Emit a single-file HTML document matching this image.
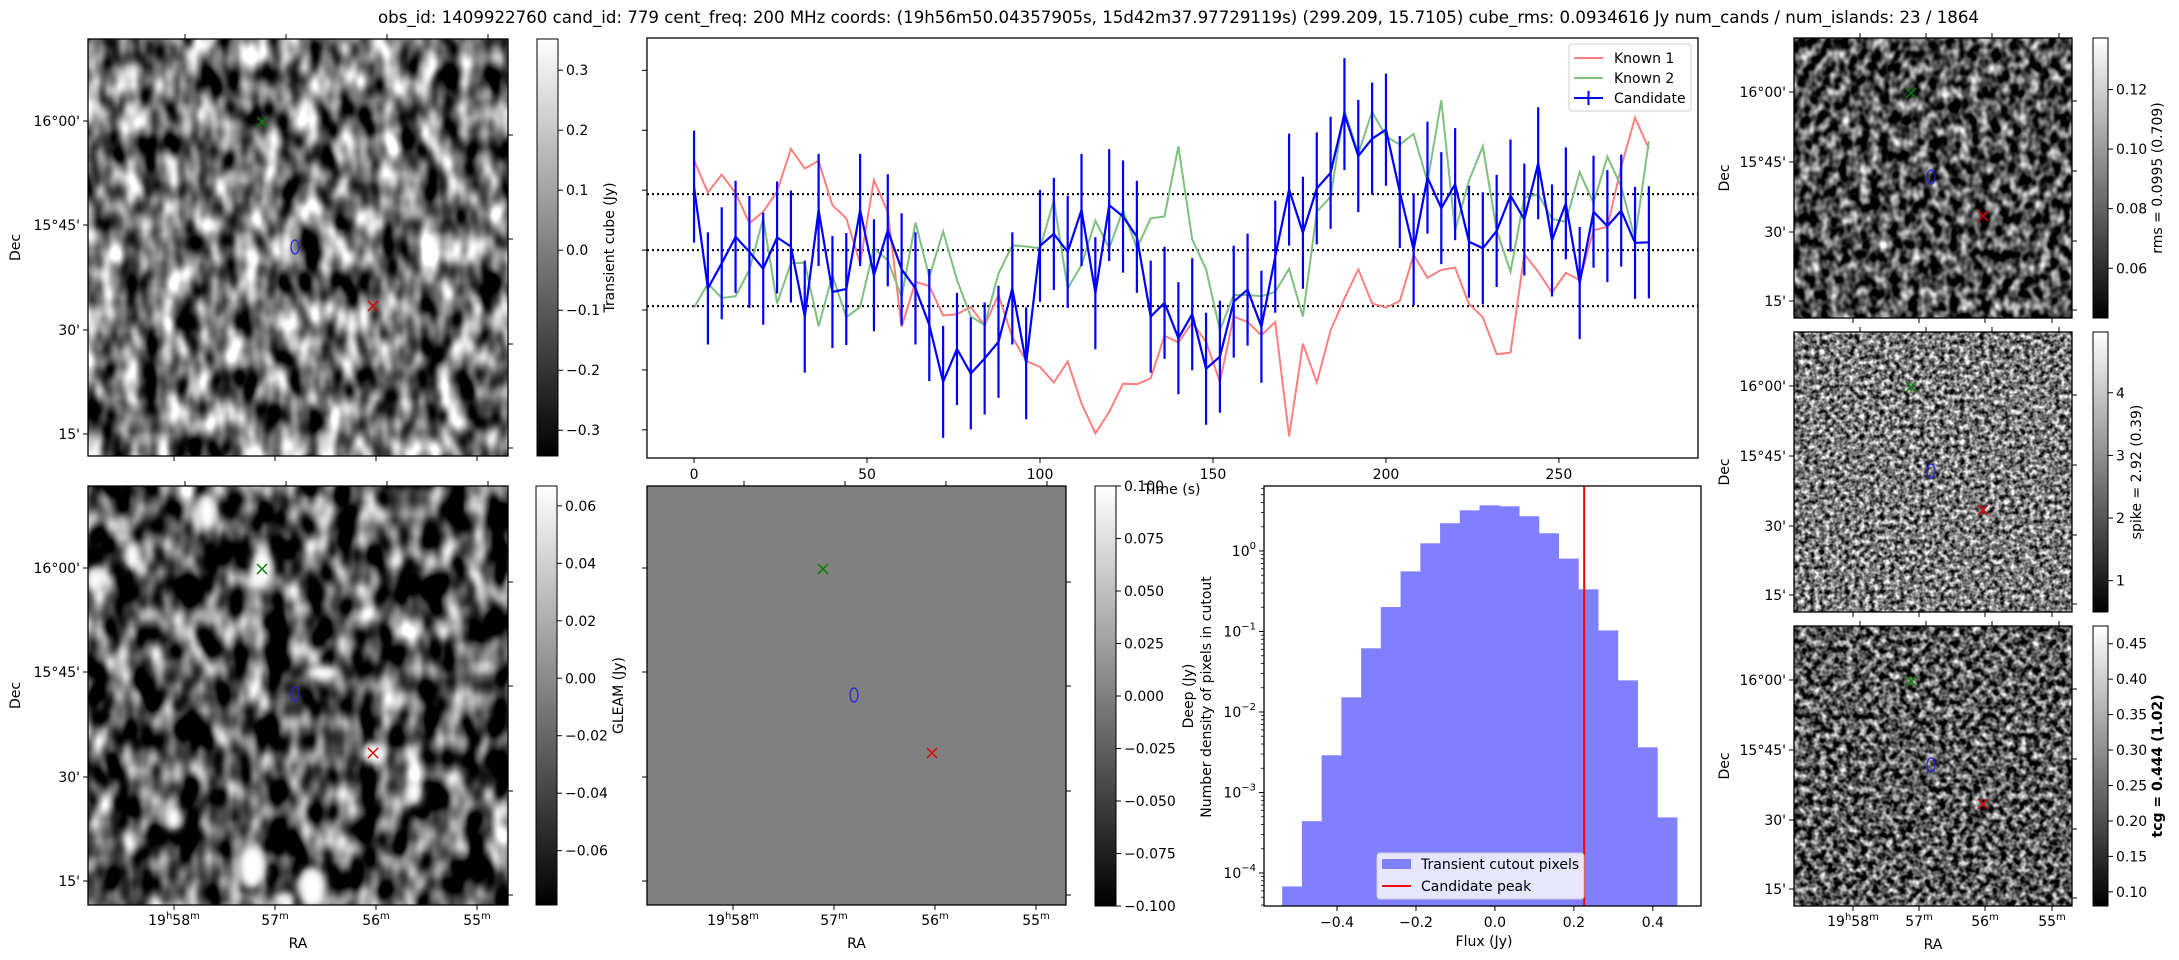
<!DOCTYPE html>
<html><head><meta charset="utf-8"><style>
html,body{margin:0;padding:0;background:#fff;}
svg{display:block;}
text{font-family:"DejaVu Sans","Liberation Sans",sans-serif;fill:#000;}
</style></head><body>
<svg id="fig" xmlns="http://www.w3.org/2000/svg" width="2179" height="960" viewBox="0 0 2179 960">
<defs>
 <linearGradient id="gray" x1="0" y1="1" x2="0" y2="0"><stop offset="0" stop-color="#000"/><stop offset="1" stop-color="#fff"/></linearGradient>
 <filter id="nTL" x="0" y="0" width="100%" height="100%" color-interpolation-filters="sRGB">
  <feTurbulence type="fractalNoise" baseFrequency="0.05 0.03" numOctaves="2" seed="3"/>
  <feColorMatrix type="matrix" values="2.1 0 0 0 -0.6 2.1 0 0 0 -0.6 2.1 0 0 0 -0.6 0 0 0 0 1"/>
 </filter>
 <filter id="nBL" x="0" y="0" width="100%" height="100%" color-interpolation-filters="sRGB">
  <feTurbulence type="fractalNoise" baseFrequency="0.045 0.028" numOctaves="2" seed="11"/>
  <feColorMatrix type="matrix" values="2.2 0 0 0 -0.8 2.2 0 0 0 -0.8 2.2 0 0 0 -0.8 0 0 0 0 1"/>
 </filter>
 <filter id="nR1" x="0" y="0" width="100%" height="100%" color-interpolation-filters="sRGB">
  <feTurbulence type="fractalNoise" baseFrequency="0.1 0.08" numOctaves="2" seed="5"/>
  <feColorMatrix type="matrix" values="1.9 0 0 0 -0.65 1.9 0 0 0 -0.65 1.9 0 0 0 -0.65 0 0 0 0 1"/>
 </filter>
 <filter id="nR2" x="0" y="0" width="100%" height="100%" color-interpolation-filters="sRGB">
  <feTurbulence type="fractalNoise" baseFrequency="0.2" numOctaves="2" seed="8"/>
  <feColorMatrix type="matrix" values="1.8 0 0 0 -0.42 1.8 0 0 0 -0.42 1.8 0 0 0 -0.42 0 0 0 0 1"/>
 </filter>
 <filter id="nR3" x="0" y="0" width="100%" height="100%" color-interpolation-filters="sRGB">
  <feTurbulence type="fractalNoise" baseFrequency="0.15" numOctaves="2" seed="21"/>
  <feColorMatrix type="matrix" values="1.9 0 0 0 -0.6 1.9 0 0 0 -0.6 1.9 0 0 0 -0.6 0 0 0 0 1"/>
 </filter>
 <filter id="blur4"><feGaussianBlur stdDeviation="4"/></filter>
 <clipPath id="clipBL"><rect x="88" y="486" width="420" height="419"/></clipPath>
</defs>
<text x="378" y="23" font-size="16.5" textLength="1601" lengthAdjust="spacingAndGlyphs">obs_id: 1409922760 cand_id: 779 cent_freq: 200 MHz coords: (19h56m50.04357905s, 15d42m37.97729119s) (299.209, 15.7105) cube_rms: 0.0934616 Jy num_cands / num_islands: 23 / 1864</text>
<g id="layer"></g>
</svg>
<script>
// ---------- Time series data ----------
const tsTimes = [0,4,8,12,16,20,24,28,32,36,40,44,48,52,56,60,64,68,72,76,80,84,88,92,96,100,104,108,112,116,120,124,128,132,136,140,144,148,152,156,160,164,168,172,176,180,184,188,192,196,200,204,208,212,216,220,224,228,232,236,240,244,248,252,256,260,264,268,272,276];
const candidateFlux = [0.106,-0.064,-0.022,0.022,-0.003,-0.031,0.021,0.006,-0.111,0.067,-0.070,-0.065,0.067,-0.042,0.033,-0.032,-0.064,-0.125,-0.220,-0.165,-0.206,-0.181,-0.153,-0.064,-0.189,0.007,0.027,-0.003,0.067,-0.072,0.075,0.056,0.022,-0.111,-0.088,-0.147,-0.107,-0.198,-0.178,-0.086,-0.066,-0.128,-0.011,0.101,0.029,0.103,0.129,0.227,0.157,0.186,0.201,0.097,0.001,0.121,0.070,0.110,0.014,0.003,0.032,0.091,0.051,0.145,0.016,0.078,-0.055,0.064,0.040,0.066,0.012,0.013];
const candidateErr = [0.0935,0.0935,0.0935,0.0935,0.0935,0.0935,0.0935,0.0935,0.0935,0.0935,0.0935,0.0935,0.0935,0.0935,0.0935,0.0935,0.0935,0.0935,0.0935,0.0935,0.0935,0.0935,0.0935,0.0935,0.0935,0.0935,0.0935,0.0935,0.0935,0.0935,0.0935,0.0935,0.0935,0.0935,0.0935,0.0935,0.0935,0.0935,0.0935,0.0935,0.0935,0.0935,0.0935,0.0935,0.0935,0.0935,0.0935,0.0935,0.0935,0.0935,0.0935,0.0935,0.0935,0.0935,0.0935,0.0935,0.0935,0.0935,0.0935,0.0935,0.0935,0.0935,0.0935,0.0935,0.0935,0.0935,0.0935,0.0935,0.0935,0.0935];
const known1Flux = [0.150,0.096,0.126,0.095,0.045,0.064,0.098,0.169,0.136,0.149,0.075,0.053,-0.022,0.117,0.064,-0.128,-0.053,-0.060,-0.109,-0.107,-0.095,-0.126,-0.075,-0.145,-0.185,-0.195,-0.221,-0.186,-0.256,-0.306,-0.270,-0.223,-0.224,-0.214,-0.143,-0.154,-0.121,-0.153,-0.220,-0.111,-0.120,-0.142,-0.120,-0.311,-0.156,-0.221,-0.134,-0.081,-0.032,-0.089,-0.096,-0.085,-0.008,-0.046,-0.033,-0.029,-0.090,-0.112,-0.174,-0.171,-0.007,-0.036,-0.071,-0.038,-0.050,0.033,0.039,0.139,0.221,0.169];
const known2Flux = [-0.096,-0.056,-0.080,-0.077,-0.033,0.053,-0.089,-0.022,-0.021,-0.127,-0.042,-0.112,-0.095,0.003,-0.017,-0.078,0.046,-0.045,0.031,-0.050,-0.111,-0.125,-0.039,0.008,0.006,0.003,0.083,-0.064,-0.025,0.049,0.003,0.067,0.003,0.053,0.056,0.173,0.018,-0.032,-0.134,-0.075,-0.075,-0.077,-0.070,-0.031,-0.111,0.064,0.089,0.234,0.161,0.231,0.190,0.176,0.194,0.114,0.250,0.032,0.116,0.173,0.033,-0.036,0.088,0.093,0.052,0.047,0.130,0.079,0.156,0.106,0.019,0.182];
const cubeRms = 0.0934616;
const tsXTicks = [0,50,100,150,200,250];
const tsYTicks = [-0.3,-0.2,-0.1,0,0.1,0.2,0.3];
// ---------- Histogram data ----------
const histBinLefts = [-0.539,-0.489,-0.439,-0.389,-0.339,-0.289,-0.239,-0.189,-0.139,-0.089,-0.039,0.011,0.061,0.111,0.161,0.211,0.261,0.311,0.361,0.411];
const histDensity = [6.8e-5,4.4e-4,2.9e-3,0.0152,0.0618,0.201,0.558,1.245,2.21,3.20,3.69,3.59,2.70,1.66,0.804,0.334,0.103,0.0247,0.00364,0.00049];
const histBinWidth = 0.05;
const candidatePeak = 0.226;
const histXTicks = [-0.4,-0.2,0.0,0.2,0.4];
const histXTickLabels = ["\u22120.4","\u22120.2","0.0","0.2","0.4"];
const histYDecades = [0,-1,-2,-3,-4];

const NS = "http://www.w3.org/2000/svg";
const layer = document.getElementById('layer');
function mk(tag, attrs, parent){
  const e = document.createElementNS(NS, tag);
  for (const k in attrs) e.setAttribute(k, attrs[k]);
  (parent||layer).appendChild(e);
  return e;
}
function txt(s, attrs, parent){ const t = mk('text', attrs, parent); t.textContent = s; return t; }

// ---------- Image panels ----------
const panels = [
 {id:'transient-cube', x:88, y:39, w:420, h:417, filt:'nTL', decY:[121,225,330,434], raX:[174,275,376,477], decLab:true, raLab:false, m:[[262,122],[295,247],[373,306]], decTitle:true},
 {id:'gleam', x:88, y:486, w:420, h:419, filt:'nBL', decY:[568,672,777,881], raX:[174,275,376,477], decLab:true, raLab:true, m:[[262,569],[295,694],[373,753]], decTitle:true, blobs:true},
 {id:'deep', x:647, y:486, w:419, h:419, flat:'#808080', decY:[568,672,777,881], raX:[733,834,935,1036], decLab:false, raLab:true, m:[[823,569],[854,695],[932,753]]},
 {id:'rms', x:1794, y:38, w:278, h:280, filt:'nR1', decY:[92,162,232,301], raX:[1853,1919,1985,2052], decLab:true, raLab:false, m:[[1911,93],[1931,177],[1983,216]], decTitle:true},
 {id:'spike', x:1794, y:332, w:278, h:280, filt:'nR2', decY:[386,456,526,595], raX:[1853,1919,1985,2052], decLab:true, raLab:false, m:[[1911,387],[1931,471],[1983,510]], decTitle:true},
 {id:'tcg', x:1794, y:626, w:278, h:280, filt:'nR3', decY:[680,750,820,889], raX:[1853,1919,1985,2052], decLab:true, raLab:true, m:[[1911,681],[1931,765],[1983,804]], decTitle:true}
];
const decLabels = ["16\u00b000'","15\u00b045'","30'","15'"];
const raMain = ["19","57","56","55"];
panels.forEach(p=>{
  const g = mk('g',{});
  
  
  let img;
  if (p.flat) img = mk('rect',{x:p.x,y:p.y,width:p.w,height:p.h,fill:p.flat},g);
  else img = mk('rect',{x:p.x,y:p.y,width:p.w,height:p.h,fill:'#000',filter:'url(#'+p.filt+')'},g);
  
  
  if (p.blobs){
    const bg = mk('g',{'clip-path':'url(#clipBL)',filter:'url(#blur4)'},g);
    [[207,512,10,19],[132,555,8,14],[262,569,11,19],[323,673,16,8],[373,753,12,11],[414,793,8,12],[173,818,9,12],[252,867,14,22],[312,888,14,20],[282,900,9,7],[94,580,7,13]].forEach(b=>{
      const e = mk('ellipse',{cx:b[0],cy:b[1],rx:b[2],ry:b[3],fill:'#fff'},bg);
      
      
    });
  }
  const fr = mk('rect',{x:p.x,y:p.y,width:p.w,height:p.h,fill:'none',stroke:'#000','stroke-width':1.3},g);
  
  
  p.decY.forEach((y,i)=>{
    const t = mk('line',{x1:p.x-5,x2:p.x,y1:y,y2:y,stroke:'#000','stroke-width':1},g);
    
    
    const t2 = mk('line',{x1:p.x+p.w,x2:p.x+p.w+5,y1:y+(p.h>300?14:9),y2:y+(p.h>300?14:9),stroke:'#000','stroke-width':1},g);
    
    
    if (p.decLab){
      const l = txt(decLabels[i],{x:p.x-8,y:y+5,'font-size':14,'text-anchor':'end'},g);
      
      
    }
  });
  p.raX.forEach((x,i)=>{
    const t = mk('line',{x1:x,x2:x,y1:p.y+p.h,y2:p.y+p.h+5,stroke:'#000','stroke-width':1},g);
    
    
    const t2 = mk('line',{x1:x+(p.w>300?11:7),x2:x+(p.w>300?11:7),y1:p.y-5,y2:p.y,stroke:'#000','stroke-width':1},g);
    
    
    if (p.raLab){
      const l = mk('text',{x:x,y:p.y+p.h+20,'font-size':14,'text-anchor':'middle'},g);
      
      
      if (i===0){
        l.innerHTML = '19<tspan font-size="10" dy="-6">h</tspan><tspan dy="6">58</tspan><tspan font-size="10" dy="-6">m</tspan>';
      } else {
        l.innerHTML = raMain[i]+'<tspan font-size="10" dy="-6">m</tspan>';
      }
    }
  });
  if (p.raLab){
    const l = txt('RA',{x:p.x+p.w/2,y:p.y+p.h+43,'font-size':14,'text-anchor':'middle'},g);
    
    
  }
  if (p.decTitle){
    const dx = p.x>1000 ? 1729 : 20;
    const cy = p.y+p.h/2;
    const l = txt('Dec',{x:dx,y:cy,'font-size':14,'text-anchor':'middle',transform:'rotate(-90 '+dx+' '+cy+')'},g);
    
    
  }
  const cols = ['#008000','#2020e0','#e00000'];
  p.m.forEach((c,i)=>{
    if (i===1){
      const e = mk('ellipse',{cx:c[0],cy:c[1],rx:4,ry:7,fill:'none',stroke:cols[1],'stroke-width':1.2},g);
      
      
    } else {
      const s=5;
      const e = mk('path',{d:`M${c[0]-s},${c[1]-s}L${c[0]+s},${c[1]+s}M${c[0]-s},${c[1]+s}L${c[0]+s},${c[1]-s}`,stroke:cols[i],'stroke-width':1.5,fill:'none'},g);
      
      
    }
  });
});

// ---------- Colorbars ----------
const colorbars = [
 {id:'transient-cube', x:537, y:39, w:21, h:417, lo:-0.343, hi:0.352, ticks:[-0.3,-0.2,-0.1,0,0.1,0.2,0.3], dec:1, label:'Transient cube (Jy)', lx:609},
 {id:'gleam', x:536, y:486, w:21, h:419, lo:-0.0789, hi:0.0669, ticks:[-0.06,-0.04,-0.02,0,0.02,0.04,0.06], dec:2, label:'GLEAM (Jy)', lx:618},
 {id:'deep', x:1095, y:486, w:21, h:420, lo:-0.1, hi:0.1, ticks:[-0.1,-0.075,-0.05,-0.025,0,0.025,0.05,0.075,0.1], dec:3, label:'Deep (Jy)', lx:1188},
 {id:'rms', x:2093, y:38, w:15, h:280, lo:0.0433, hi:0.1373, ticks:[0.06,0.08,0.10,0.12], dec:2, label:'rms = 0.0995 (0.709)', lx:2157},
 {id:'spike', x:2093, y:332, w:15, h:280, lo:0.50, hi:4.97, ticks:[1,2,3,4], dec:0, label:'spike = 2.92 (0.39)', lx:2136},
 {id:'tcg', x:2093, y:626, w:15, h:280, lo:0.080, hi:0.475, ticks:[0.10,0.15,0.20,0.25,0.30,0.35,0.40,0.45], dec:2, label:'tcg = 0.444 (1.02)', lx:2157, bold:true}
];
colorbars.forEach(c=>{
  const g = mk('g',{});
  
  
  const r = mk('rect',{x:c.x,y:c.y,width:c.w,height:c.h,fill:'url(#gray)',stroke:'#000','stroke-width':1},g);
  
  
  const yv = v => c.y + c.h - (v-c.lo)/(c.hi-c.lo)*c.h;
  c.ticks.forEach(v=>{
    const y = yv(v);
    const t = mk('line',{x1:c.x+c.w,x2:c.x+c.w+5,y1:y,y2:y,stroke:'#000','stroke-width':1},g);
    
    
    let s = Math.abs(v).toFixed(c.dec);
    if (v < -1e-9) s = '\u2212'+s;
    const l = txt(s,{x:c.x+c.w+8,y:y+5,'font-size':14},g);
    
    
  });
  const cy = c.y + c.h/2, bx = c.lx+5;
  const l = txt(c.label,{x:bx,y:cy,'font-size':14,'text-anchor':'middle','font-weight':c.bold?'bold':'normal',transform:'rotate(-90 '+bx+' '+cy+')'},g);
  
  
});

// ---------- Time series ----------
const TS = {l:647, r:1698, t:38, b:458, x0:-13.6, x1:290.2, y0:-0.347, y1:0.354};
const xT = t => TS.l + (t-TS.x0)/(TS.x1-TS.x0)*(TS.r-TS.l);
const yT = v => TS.b - (v-TS.y0)/(TS.y1-TS.y0)*(TS.b-TS.t);
const tsg = mk('g',{});


[cubeRms, 0, -cubeRms].forEach(v=>{
  const l = mk('line',{x1:TS.l,x2:TS.r,y1:yT(v),y2:yT(v),stroke:'#000','stroke-width':2,'stroke-dasharray':'2,3'},tsg);
  
  
});
function seriesPath(vals){ return vals.map((v,i)=>(i?'L':'M')+xT(tsTimes[i]).toFixed(1)+','+yT(v).toFixed(1)).join(''); }
const k1 = mk('path',{d:seriesPath(known1Flux),fill:'none',stroke:'#ff7f7f','stroke-width':2},tsg);


const k2 = mk('path',{d:seriesPath(known2Flux),fill:'none',stroke:'#7fbf7f','stroke-width':2},tsg);


candidateFlux.forEach((v,i)=>{
  const x = xT(tsTimes[i]);
  const e = mk('line',{x1:x,x2:x,y1:yT(v+candidateErr[i]),y2:yT(v-candidateErr[i]),stroke:'#0000ff','stroke-width':2.2},tsg);
  
  
});
const cl = mk('path',{d:seriesPath(candidateFlux),fill:'none',stroke:'#0000ff','stroke-width':2.2},tsg);


const tsFrame = mk('rect',{x:TS.l,y:TS.t,width:TS.r-TS.l,height:TS.b-TS.t,fill:'none',stroke:'#000','stroke-width':1.3},tsg);


tsXTicks.forEach(t=>{
  const x = xT(t);
  const tk = mk('line',{x1:x,x2:x,y1:TS.b,y2:TS.b+5,stroke:'#000'},tsg);
  
  
  const l = txt(String(t),{x:x,y:TS.b+21,'font-size':14,'text-anchor':'middle'},tsg);
  
  
});
tsYTicks.forEach(v=>{
  const y = yT(v);
  const tk = mk('line',{x1:TS.l-5,x2:TS.l,y1:y,y2:y,stroke:'#000'},tsg);
  
  
});
const tTitle = txt('Time (s)',{x:1172,y:494,'font-size':14,'text-anchor':'middle'},tsg);


const lg = mk('g',{},tsg);


const lgBox = mk('rect',{x:1569,y:44,width:122,height:67,rx:3,fill:'#fff','fill-opacity':0.8,stroke:'#ccc'},lg);


[['Known 1','#ff7f7f',58],['Known 2','#7fbf7f',78],['Candidate','#0000ff',98]].forEach((e,i)=>{
  const ln = mk('line',{x1:1574,x2:1603,y1:e[2],y2:e[2],stroke:e[1],'stroke-width':2},lg);
  
  
  if (i===2){
    const vb = mk('line',{x1:1588.5,x2:1588.5,y1:e[2]-7,y2:e[2]+7,stroke:e[1],'stroke-width':2},lg);
    
    
  }
  const t = txt(e[0],{x:1614,y:e[2]+5,'font-size':14},lg);
  
  
});

// ---------- Histogram ----------
const H = {l:1264, r:1701, t:486, b:906, x0:-0.585, x1:0.522, ly0:-4.41, ly1:0.807};
const xH = v => H.l + (v-H.x0)/(H.x1-H.x0)*(H.r-H.l);
const yH = d => H.b - (Math.log10(d)-H.ly0)/(H.ly1-H.ly0)*(H.b-H.t);
const hg = mk('g',{});


histBinLefts.forEach((x,i)=>{
  const x0 = xH(x), x1 = xH(x+histBinWidth), y = yH(histDensity[i]);
  const b = mk('rect',{x:x0,y:y,width:x1-x0+0.5,height:H.b-y,fill:'#8080ff'},hg);
  
  
});
const pk = mk('line',{x1:xH(candidatePeak),x2:xH(candidatePeak),y1:H.t,y2:H.b,stroke:'#ff0000','stroke-width':2},hg);


const hf = mk('rect',{x:H.l,y:H.t,width:H.r-H.l,height:H.b-H.t,fill:'none',stroke:'#000','stroke-width':1.3},hg);


histXTicks.forEach((v,i)=>{
  const x = xH(v);
  const tk = mk('line',{x1:x,x2:x,y1:H.b,y2:H.b+5,stroke:'#000'},hg);
  
  
  const l = txt(histXTickLabels[i],{x:x,y:H.b+21,'font-size':14,'text-anchor':'middle'},hg);
  
  
});
histYDecades.forEach(d=>{
  const y = yH(Math.pow(10,d));
  const tk = mk('line',{x1:H.l-5,x2:H.l,y1:y,y2:y,stroke:'#000'},hg);
  
  
  const l = mk('text',{x:H.l-8,y:y+5,'font-size':14,'text-anchor':'end'},hg);
  
  
  l.innerHTML = '10<tspan font-size="10" dy="-7">'+(d===0?'0':'\u2212'+(-d))+'</tspan>';
});
[-5,-4,-3,-2,-1,0].forEach(d=>{
  for (let k=2;k<=9;k++){
    const lv = d+Math.log10(k);
    if (lv<H.ly0 || lv>H.ly1) continue;
    const y = yH(Math.pow(10,lv));
    const tk = mk('line',{x1:H.l-3,x2:H.l,y1:y,y2:y,stroke:'#000','stroke-width':0.8},hg);
    
    
  }
});
const hx = txt('Flux (Jy)',{x:1484,y:946,'font-size':14,'text-anchor':'middle'},hg);


const hy = txt('Number density of pixels in cutout',{x:1211,y:697,'font-size':14,'text-anchor':'middle',transform:'rotate(-90 1211 697)'},hg);


const hl = mk('g',{},hg);


const hlb = mk('rect',{x:1377,y:853,width:207,height:46,rx:3,fill:'#fff','fill-opacity':0.8,stroke:'#ccc'},hl);


const hp = mk('rect',{x:1382,y:859,width:29,height:10,fill:'#8080ff'},hl);


const ht1 = txt('Transient cutout pixels',{x:1421,y:869,'font-size':14},hl);


const hp2 = mk('line',{x1:1382,x2:1411,y1:886,y2:886,stroke:'#ff0000','stroke-width':2},hl);


const ht2 = txt('Candidate peak',{x:1421,y:891,'font-size':14},hl);


</script>
</body></html>
